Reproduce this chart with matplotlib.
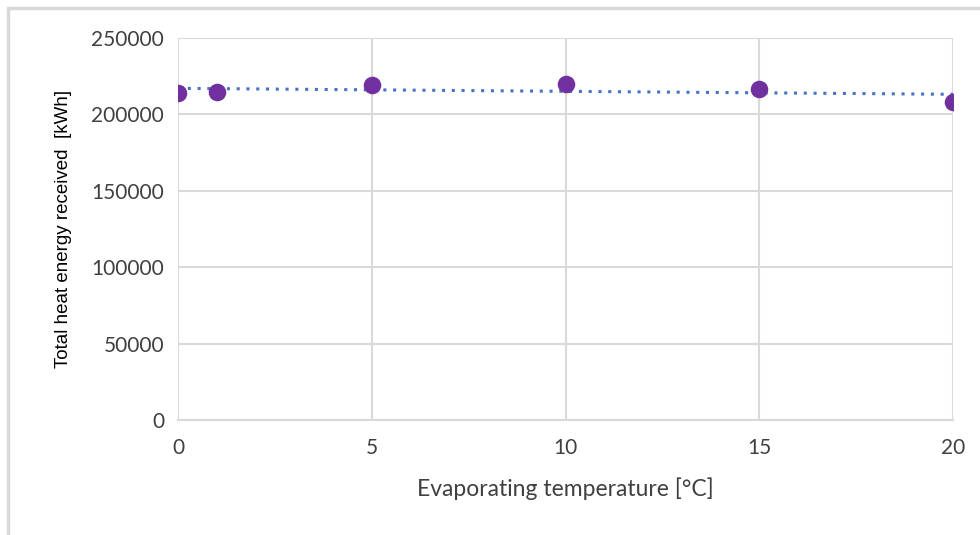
import numpy as np
import matplotlib.pyplot as plt
from matplotlib.patches import Rectangle

# datos
temp_evap = [0, 1, 5, 10, 15, 20]
energia = [213700, 214700, 219100, 220200, 216500, 208200]
yticks = [0, 50000, 100000, 150000, 200000, 250000]
xticks = [0, 5, 10, 15, 20]

fig = plt.figure(figsize=(9.8, 5.35), dpi=100)
ax = fig.add_axes([178/980, 1-420/535, (953-178)/980, (420-38)/535])

# borde gris de la figura
fig.patches.append(Rectangle((8/980, -0.2), 1.2, 1.2-8/535, transform=fig.transFigure,
                             fill=False, edgecolor='#d9d9d9', linewidth=2.5))

ax.scatter(temp_evap, energia, s=160, color='#7030A0', zorder=3, linewidths=0)

# linea de tendencia lineal
p = np.polyfit(temp_evap, energia, 1)
xt = np.array([0, 20])
ax.plot(xt, np.polyval(p, xt), linestyle=(0, (1, 2.2)), color='#4472C4',
        linewidth=2.2, zorder=2)

ax.set_xlim(0, 20)
ax.set_ylim(0, 250000)
ax.set_xticks(xticks)
ax.set_yticks(yticks)
ax.grid(True, color='#d9d9d9', linewidth=1.5)
ax.set_axisbelow(True)
for s in ['top', 'right', 'left']:
    ax.spines[s].set_visible(False)
ax.spines['bottom'].set_color('#d9d9d9')
ax.spines['bottom'].set_linewidth(1.5)
ax.tick_params(length=0, labelsize=15, colors='#404040')
ax.tick_params(axis='y', pad=10)
ax.tick_params(axis='x', pad=13)
for lab in ax.get_xticklabels() + ax.get_yticklabels():
    lab.set_family('Lato')

ax.set_xlabel('Evaporating temperature [°C]', fontsize=16.5, family='Lato',
              color='#404040', labelpad=14)
ax.set_ylabel('Total heat energy received  [kWh]', fontsize=13.5,
              family='Liberation Sans', color='#000000', labelpad=14)

fig.savefig('out.png', dpi=100)
